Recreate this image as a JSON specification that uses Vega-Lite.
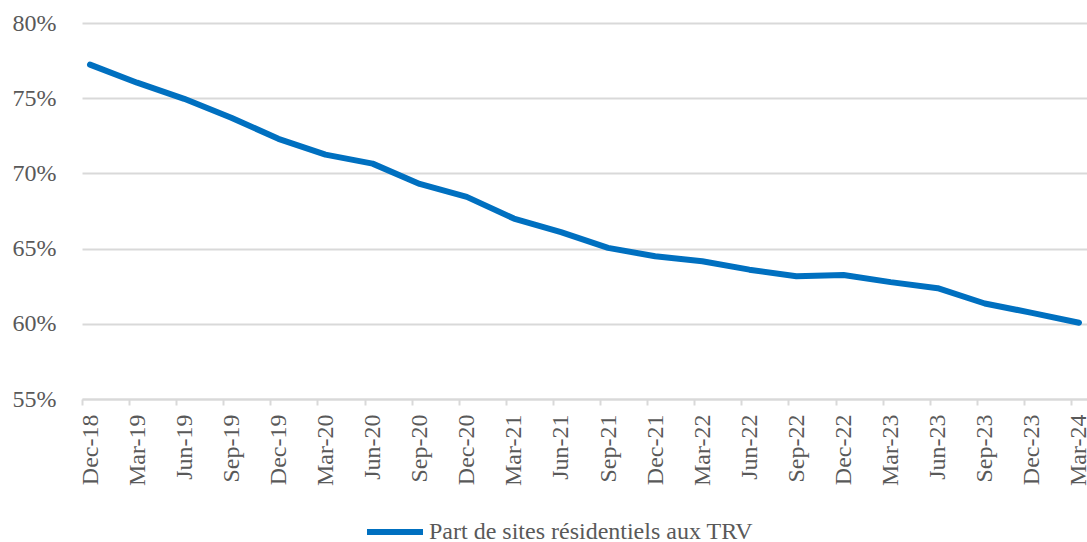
{
  "$schema": "https://vega.github.io/schema/vega-lite/v6.json",
  "width": 1005,
  "height": 376,
  "autosize": {"type": "none"},
  "padding": {"left": 82, "top": 23, "right": 0, "bottom": 143},
  "config": {"view": {"stroke": null}, "font": "Times New Roman"},
  "data": {
    "values": [
      {"period": "Dec-18", "series": "Part de sites résidentiels aux TRV", "value": 0.7723},
      {"period": "Mar-19", "series": "Part de sites résidentiels aux TRV", "value": 0.7603},
      {"period": "Jun-19", "series": "Part de sites résidentiels aux TRV", "value": 0.7496},
      {"period": "Sep-19", "series": "Part de sites résidentiels aux TRV", "value": 0.737},
      {"period": "Dec-19", "series": "Part de sites résidentiels aux TRV", "value": 0.723},
      {"period": "Mar-20", "series": "Part de sites résidentiels aux TRV", "value": 0.7125},
      {"period": "Jun-20", "series": "Part de sites résidentiels aux TRV", "value": 0.7065},
      {"period": "Sep-20", "series": "Part de sites résidentiels aux TRV", "value": 0.693},
      {"period": "Dec-20", "series": "Part de sites résidentiels aux TRV", "value": 0.6844},
      {"period": "Mar-21", "series": "Part de sites résidentiels aux TRV", "value": 0.67},
      {"period": "Jun-21", "series": "Part de sites résidentiels aux TRV", "value": 0.6609},
      {"period": "Sep-21", "series": "Part de sites résidentiels aux TRV", "value": 0.6505},
      {"period": "Dec-21", "series": "Part de sites résidentiels aux TRV", "value": 0.6449},
      {"period": "Mar-22", "series": "Part de sites résidentiels aux TRV", "value": 0.6416},
      {"period": "Jun-22", "series": "Part de sites résidentiels aux TRV", "value": 0.636},
      {"period": "Sep-22", "series": "Part de sites résidentiels aux TRV", "value": 0.6316},
      {"period": "Dec-22", "series": "Part de sites résidentiels aux TRV", "value": 0.6325},
      {"period": "Mar-23", "series": "Part de sites résidentiels aux TRV", "value": 0.6277},
      {"period": "Jun-23", "series": "Part de sites résidentiels aux TRV", "value": 0.6237},
      {"period": "Sep-23", "series": "Part de sites résidentiels aux TRV", "value": 0.6135},
      {"period": "Dec-23", "series": "Part de sites résidentiels aux TRV", "value": 0.6073},
      {"period": "Mar-24", "series": "Part de sites résidentiels aux TRV", "value": 0.6007}
    ]
  },
  "mark": {"type": "line", "strokeWidth": 6, "strokeCap": "round", "strokeJoin": "round"},
  "encoding": {
    "x": {
      "field": "period",
      "type": "ordinal",
      "sort": null,
      "scale": {"type": "point", "padding": 0.17},
      "axis": {
        "title": null,
        "labelAngle": -90,
        "labelFont": "Times New Roman",
        "labelFontSize": 24,
        "labelColor": "#595959",
        "labelOffset": 8,
        "domainColor": "#D9D9D9",
        "domainWidth": 2,
        "tickColor": "#D9D9D9",
        "tickWidth": 2,
        "tickSize": 6,
        "tickOffset": -8,
        "labelPadding": 9,
        "grid": false
      }
    },
    "y": {
      "field": "value",
      "type": "quantitative",
      "scale": {"domain": [0.55, 0.8], "nice": false, "zero": false},
      "axis": {
        "title": null,
        "format": ".0%",
        "values": [0.55, 0.6, 0.65, 0.7, 0.75, 0.8],
        "labelFont": "Times New Roman",
        "labelFontSize": 24,
        "labelColor": "#595959",
        "domain": false,
        "ticks": false,
        "labelPadding": 26,
        "gridColor": "#D9D9D9",
        "gridWidth": 2
      }
    },
    "color": {
      "field": "series",
      "type": "nominal",
      "scale": {"range": ["#0070C0"]},
      "legend": {
        "title": null,
        "orient": "none",
        "legendX": 282,
        "legendY": 478,
        "direction": "horizontal",
        "symbolType": "stroke",
        "symbolSize": 3136,
        "symbolStrokeWidth": 6,
        "labelFont": "Times New Roman",
        "labelFontSize": 24,
        "labelColor": "#595959",
        "labelOffset": 3,
        "labelLimit": 800
      }
    }
  }
}
